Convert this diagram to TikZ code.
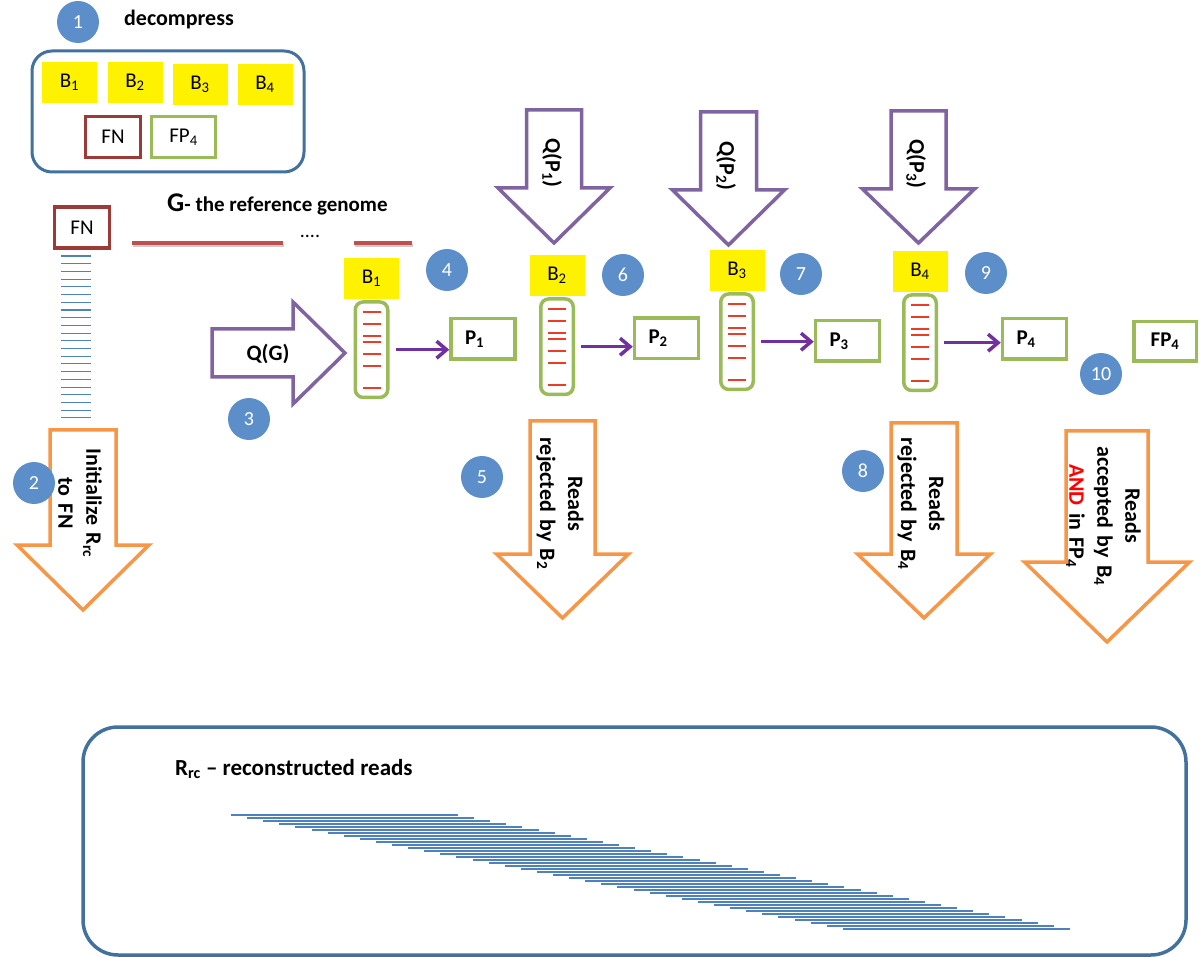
\documentclass[tikz,border=0pt]{standalone}
\usepackage{fontspec}
\setmainfont{Carlito}
\usepackage{tikz}
\usetikzlibrary{arrows.meta,positioning}

\definecolor{numblue}{RGB}{92,143,201}
\definecolor{boxblue}{RGB}{65,113,156}
\definecolor{fnred}{RGB}{155,58,55}
\definecolor{pgreen}{RGB}{155,187,89}
\definecolor{qpurple}{RGB}{128,100,162}
\definecolor{apurple}{RGB}{112,48,160}
\definecolor{rorange}{RGB}{247,150,70}
\definecolor{genred}{RGB}{192,80,77}
\definecolor{readblue}{RGB}{79,129,189}
\definecolor{hitred}{RGB}{235,60,40}

\newcommand{\fsz}[2]{\fontsize{#1}{#2}\selectfont}
% block arrow pointing down: style, x, top, shoulder, tip, body half, head half
\newcommand{\blockdown}[7]{\draw[#1] (#2-#6,#3) -- (#2+#6,#3) -- (#2+#6,#4) -- (#2+#7,#4) -- (#2,#5) -- (#2-#7,#4) -- (#2-#6,#4) -- cycle;}

\begin{document}
\begin{tikzpicture}[x=1pt,y=-1pt,
    num/.style={circle,fill=numblue,text=white,minimum size=42pt,inner sep=0pt,font=\fsz{20}{24}},
    blabel/.style={fill=yellow,minimum width=55pt,minimum height=41pt,inner sep=0pt,font=\fsz{21}{25}},
    fnbox/.style={draw=fnred,line width=3.3pt,minimum width=55pt,minimum height=41pt,inner sep=0pt,font=\fsz{21}{25}},
    pbox/.style={draw=pgreen,line width=3.5pt,text width=36pt,align=left,inner xsep=14pt,inner ysep=0pt,minimum height=40.5pt,font=\bfseries\fsz{21}{25}},
    capsule/.style={draw=pgreen,line width=3.5pt,rounded corners=8pt,minimum width=32.5pt,minimum height=95.5pt,inner sep=0pt},
    qarrow/.style={draw=qpurple,line width=3.5pt,fill=white},
    rarrow/.style={draw=rorange,line width=3.5pt,fill=white},
    vtext/.style={rotate=-90,text width=160pt,align=center,font=\bfseries\fsz{22}{28},inner sep=0pt},
    hop/.style={draw=apurple,line width=3.5pt,-{Straight Barb[length=10pt,width=17pt]},shorten <=6pt},
    readline/.style={readblue,line width=1.1pt},
    hit/.style={hitred,line width=1.6pt}]
  \useasboundingbox (0,0) rectangle (1200,957);

  % 1: decompress
  \node[num] (n1) at (78,22) {1};
  \node[font=\bfseries\fsz{22}{26}] (dec) at (179,20) {decompress};
  \node[draw=boxblue,line width=3pt,rounded corners=20pt,minimum width=272pt,minimum height=121pt] (store) at (168,111.5) {};
  \node[blabel] (tb1) at (69.5,82.5) {B\textsubscript{1}};
  \node[blabel] (tb2) at (135,82.5) {B\textsubscript{2}};
  \node[blabel] (tb3) at (200,84.5) {B\textsubscript{3}};
  \node[blabel] (tb4) at (265,84.5) {B\textsubscript{4}};
  \node[fnbox] (tfn) at (113,137) {FN};
  \node[fnbox,draw=pgreen,minimum width=64pt] (tfp) at (183.5,137) {FP\textsubscript{4}};

  % genome
  \node[fnbox] (fn) at (82,227.5) {FN};
  \node[anchor=base west,font=\bfseries\fsz{21}{25},inner sep=0pt] (genome) at (167,212) {{\fsz{27}{30}G}- the reference genome};
  \draw[black!20,line width=3pt] (133,246) -- (284,246) (355,246) -- (413,246);
  \draw[genred,line width=4pt] (132,243) -- (283,243) (354,243) -- (412,243);
  \node[font=\fsz{20}{24}] (dots) at (310,236) {....};
  \foreach \i in {0,...,21}
    \draw[readline] (61,256+7.71*\i) -- (91,256+7.71*\i);

  % 2: initialize
  \blockdown{rarrow}{83}{430}{545}{610}{33}{66}
  \node[vtext] (t2) at (80,503) {Initialize R\textsubscript{rc}\\to FN};
  \node[num] (n2) at (34,483) {2};

  % 3: Q(G)
  \draw[qarrow] (212,329) -- (293,329) -- (293,302) -- (345,353) -- (293,404) -- (293,377) -- (212,377) -- cycle;
  \node[font=\bfseries\fsz{22}{26}] (qg) at (268,354) {Q(G)};
  \node[num] (n3) at (249,419) {3};

  % B1
  \node[blabel] (b1) at (371.5,278.5) {B\textsubscript{1}};
  \node[capsule,below=1pt of b1] (c1) {};
  \node[pbox] (p1) at (483,339) {P\textsubscript{1}};
  \node[num] (n4) at (447,270) {4};

  % B2
  \blockdown{qarrow}{554}{110}{188}{243}{27.5}{56}
  \node[vtext] (q1) at (552,163) {Q(P\textsubscript{1})};
  \node[blabel] (b2) at (557,275.5) {B\textsubscript{2}};
  \node[capsule,below=1pt of b2] (c2) {};
  \node[pbox] (p2) at (666.5,338.5) {P\textsubscript{2}};
  \node[num] (n6) at (623,275) {6};
  \blockdown{rarrow}{562.5}{421}{554}{618}{32.5}{66}
  \node[vtext] (t5) at (560,503.5) {Reads\\rejected by B\textsubscript{2}};
  \node[num] (n5) at (482,477) {5};

  % B3
  \blockdown{qarrow}{728.5}{112}{190}{245}{28}{56}
  \node[vtext] (q2) at (726,166) {Q(P\textsubscript{2})};
  \node[blabel] (b3) at (737,270.5) {B\textsubscript{3}};
  \node[capsule,below=1pt of b3] (c3) {};
  \node[pbox] (p3) at (847.5,341) {P\textsubscript{3}};
  \node[num] (n7) at (801,274) {7};

  % B4
  \blockdown{qarrow}{918.5}{111}{189}{243}{27.5}{56}
  \node[vtext] (q3) at (916,164) {Q(P\textsubscript{3})};
  \node[blabel] (b4) at (920,271.5) {B\textsubscript{4}};
  \node[capsule,below=1pt of b4] (c4) {};
  \node[pbox] (p4) at (1034.5,339) {P\textsubscript{4}};
  \node[num] (n9) at (986,273) {9};
  \blockdown{rarrow}{924}{423}{554}{618}{33}{66.5}
  \node[vtext] (t8) at (921,504) {Reads\\rejected by B\textsubscript{4}};
  \node[num] (n8) at (863,471) {8};

  % FP4
  \node[draw=pgreen,line width=3.5pt,minimum width=62.5pt,minimum height=39.5pt,inner sep=0pt,font=\bfseries\fsz{21}{25}] (fp) at (1165,341.5) {FP\textsubscript{4}};
  \node[num] (n10) at (1101,374) {10};
  \blockdown{rarrow}{1107}{431}{562}{642}{41}{82.5}
  \node[vtext] (t10) at (1103.5,516) {Reads\\accepted by B\textsubscript{4}\\\textcolor{red}{AND} in FP\textsubscript{4}};

  % reads in the capsules
  \foreach \cap in {c1,c2,c3,c4}
    \foreach \d in {12,24,36,42,54,66,88}
      \draw[hit] ([xshift=-9pt,yshift=-\d pt]\cap.north) -- ([xshift=9pt,yshift=-\d pt]\cap.north);

  \draw[hop] (c1) -- (c1 -| p1.west);
  \draw[hop] (c2) -- (c2 -| p2.west);
  \draw[hop] (c3) -- (c3 -| p3.west);
  \draw[hop] (c4) -- (c4 -| p4.west);

  % R_rc
  \node[draw=boxblue,line width=3.5pt,rounded corners=35pt,minimum width=1103pt,minimum height=228pt] (rrc) at (634.5,841) {};
  \node[anchor=west,font=\bfseries\fsz{23}{28},inner sep=0pt] (rrct) at (175,769) {R\textsubscript{rc} – reconstructed reads};
  \foreach \i in {0,...,38}
    \draw[readline] (231+16.1*\i,815+3*\i) -- (458+16.1*\i,815+3*\i);
\end{tikzpicture}
\end{document}
